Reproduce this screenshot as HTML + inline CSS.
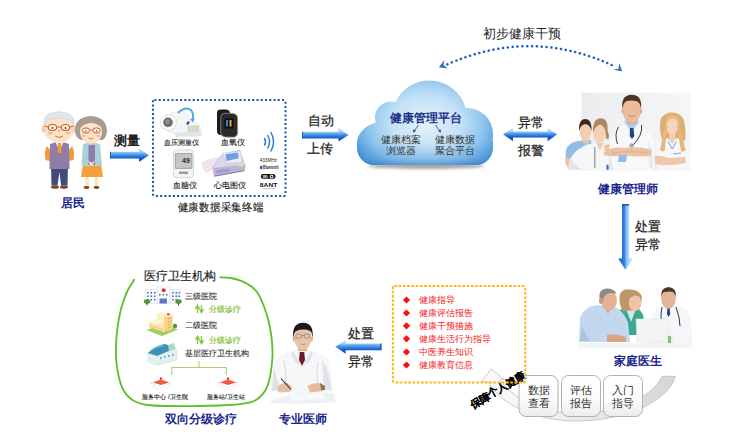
<!DOCTYPE html>
<html><head><meta charset="utf-8">
<style>
html,body{margin:0;padding:0;background:#fff;width:750px;height:441px;overflow:hidden}
svg{display:block;font-family:"Liberation Sans",sans-serif}
</style></head><body>
<svg width="750" height="441" viewBox="0 0 750 441">
<defs>
<linearGradient id="arrH" x1="0" y1="0" x2="0" y2="1">
<stop offset="0" stop-color="#a9d3f5"/><stop offset="0.5" stop-color="#3b8fe0"/><stop offset="1" stop-color="#1d64c0"/>
</linearGradient>
<linearGradient id="arrV" x1="0" y1="0" x2="1" y2="0">
<stop offset="0" stop-color="#1d6fd6"/><stop offset="0.45" stop-color="#4a9ae6"/><stop offset="1" stop-color="#b5dcf8"/>
</linearGradient>
<radialGradient id="cloudG" gradientUnits="userSpaceOnUse" cx="426" cy="123" r="78" gradientTransform="translate(426 123) scale(1 0.78) translate(-426 -123)">
<stop offset="0" stop-color="#e6f3fb"/><stop offset="0.45" stop-color="#c2e1f6"/><stop offset="0.75" stop-color="#8cc3ec"/><stop offset="0.92" stop-color="#5fa6e0"/><stop offset="1" stop-color="#4a92d6"/>
</radialGradient>
<linearGradient id="cloudB" gradientUnits="userSpaceOnUse" x1="0" y1="142" x2="0" y2="165">
<stop offset="0" stop-color="#3f86d0" stop-opacity="0"/><stop offset="0.7" stop-color="#3f86d0" stop-opacity="0.25"/><stop offset="1" stop-color="#2f74c4" stop-opacity="0.6"/>
</linearGradient>

<clipPath id="cloudClip">
<circle cx="429.5" cy="118" r="37.5"/>
<circle cx="391" cy="117.5" r="16"/>
<ellipse cx="387" cy="143" rx="30" ry="22"/>
<circle cx="467" cy="134" r="26"/>
<rect x="357" y="126" width="136" height="39" rx="17"/>
</clipPath>
<filter id="blur2" x="-20%" y="-100%" width="140%" height="300%"><feGaussianBlur stdDeviation="1.5"/></filter>

<linearGradient id="boxG" x1="0" y1="0" x2="0" y2="1"><stop offset="0" stop-color="#ffffff"/><stop offset="0.6" stop-color="#fbfbfb"/><stop offset="1" stop-color="#ececec"/></linearGradient>

<linearGradient id="arcG" gradientUnits="userSpaceOnUse" x1="480" y1="0" x2="676" y2="0"><stop offset="0" stop-color="#fbfbfb"/><stop offset="0.45" stop-color="#ededed"/><stop offset="1" stop-color="#d6d6d6"/></linearGradient>

<linearGradient id="docBg" x1="0" y1="0" x2="1" y2="0"><stop offset="0" stop-color="#e9ebed"/><stop offset="0.12" stop-color="#eceef0"/><stop offset="0.5" stop-color="#f1f2f3"/><stop offset="1" stop-color="#f6f6f7"/></linearGradient>
<linearGradient id="gA1" gradientUnits="userSpaceOnUse" x1="0" y1="151.6" x2="0" y2="158.8"><stop offset="0" stop-color="#a8d3f7"/><stop offset="0.3" stop-color="#5fa8ec"/><stop offset="0.6" stop-color="#2f83e0"/><stop offset="1" stop-color="#1352c2"/></linearGradient>
<linearGradient id="gA2" gradientUnits="userSpaceOnUse" x1="0" y1="131.6" x2="0" y2="138.6"><stop offset="0" stop-color="#a8d3f7"/><stop offset="0.3" stop-color="#5fa8ec"/><stop offset="0.6" stop-color="#2f83e0"/><stop offset="1" stop-color="#1352c2"/></linearGradient>
<linearGradient id="gA3" gradientUnits="userSpaceOnUse" x1="0" y1="131.3" x2="0" y2="137.6"><stop offset="0" stop-color="#a8d3f7"/><stop offset="0.3" stop-color="#5fa8ec"/><stop offset="0.6" stop-color="#2f83e0"/><stop offset="1" stop-color="#1352c2"/></linearGradient>
<linearGradient id="gA4" gradientUnits="userSpaceOnUse" x1="0" y1="343.3" x2="0" y2="350.5"><stop offset="0" stop-color="#a8d3f7"/><stop offset="0.3" stop-color="#5fa8ec"/><stop offset="0.6" stop-color="#2f83e0"/><stop offset="1" stop-color="#1352c2"/></linearGradient>
<linearGradient id="gV" gradientUnits="userSpaceOnUse" x1="622" y1="0" x2="629" y2="0"><stop offset="0" stop-color="#1f6ed8"/><stop offset="0.45" stop-color="#3a8ce6"/><stop offset="0.55" stop-color="#7fb9f0"/><stop offset="1" stop-color="#b0d8f8"/></linearGradient>
</defs>


<!-- ============ ARROWS ============ -->
<path d="M110 151.8 H139 V148.6 L149 155.2 L139 162 V158.6 H110 Z" fill="url(#gA1)"/>
<rect x="110" y="151.8" width="0.9" height="6.8" fill="#1a55c0"/>
<path d="M302.2 131.7 H338.5 V128.1 L348.6 135 L338.5 141.6 V138.5 H302.2 Z" fill="url(#gA2)"/>
<rect x="302.2" y="131.7" width="0.9" height="6.8" fill="#1a55c0"/>
<path d="M503 134.3 L513 128.2 V131.5 H547.6 V128.2 L557.2 134.3 L547.6 141.3 V137.4 H513 V141.3 Z" fill="url(#gA3)"/>
<path d="M335.2 346.6 L345.6 340.6 V343.5 H381.4 V350.3 H345.6 V353.7 Z" fill="url(#gA4)"/>
<rect x="380.2" y="343.5" width="1.2" height="6.8" fill="#1552c0"/>
<path d="M622 204.2 H629.1 V258.4 H632.7 L625.4 269.7 L618.2 258.4 H622 Z" fill="url(#gV)"/>
<rect x="622" y="204.2" width="7.1" height="1.3" fill="#123f9a"/>

<!-- ============ CLOUD ============ -->
<ellipse cx="426" cy="166" rx="58" ry="3" fill="#8a8580" opacity="0.75" filter="url(#blur2)"/>
<g clip-path="url(#cloudClip)">
<rect x="350" y="75" width="150" height="95" fill="url(#cloudG)"/>
<rect x="350" y="75" width="150" height="95" fill="url(#cloudB)"/>
</g>
<g fill="none" stroke="#2c3e8c" stroke-width="0.8">
<path d="M418.5 125 L414 131.5"/><path d="M435.5 125 L440 131.5"/>
</g>
<g fill="#2c3e8c"><path d="M413.2 132.8 L413.3 129.3 L416 131 Z"/><path d="M440.8 132.8 L438 131 L440.7 129.3 Z"/></g>
<!-- ============ DOTTED ARC ============ -->
<path d="M447.3 64.4 Q530.5 27.4 613 65.6" fill="none" stroke="#1a5fb8" stroke-width="2.5" stroke-dasharray="0.1 4.75" stroke-linecap="round"/>
<path d="M439 67.3 L444.3 60.1 L443.5 65 L447.8 68.4 Z" fill="#2a6cc0"/>
<path d="M622.3 71.2 L619.2 63.3 L618.6 68.7 L613.2 69.8 Z" fill="#2a6cc0"/>

<!-- ============ GREEN BLOB ============ -->
<path d="M134.2 279.7 C133.1 281.4 129.6 286.6 127.9 290.0 C126.2 293.4 125.1 296.3 123.8 300.0 C122.5 303.7 121.3 307.5 120.3 312.0 C119.3 316.5 118.3 321.5 117.6 327.0 C116.9 332.5 116.2 339.5 116.0 345.0 C115.8 350.5 115.8 354.8 116.2 360.0 C116.6 365.2 117.4 371.0 118.6 376.0 C119.8 381.0 121.1 386.0 123.4 390.0 C125.7 394.0 128.4 397.5 132.5 400.0 C136.6 402.5 139.6 404.0 148.0 405.0 C156.4 406.0 171.0 406.1 183.0 406.2 C195.0 406.3 210.5 405.8 220.0 405.5 C229.5 405.2 234.8 404.8 240.0 404.2 C245.2 403.6 247.9 403.2 251.0 402.2 C254.1 401.2 256.4 400.0 258.8 398.0 C261.2 396.0 263.9 393.0 265.6 390.0 C267.4 387.0 268.3 383.7 269.3 380.0 C270.3 376.3 270.9 372.2 271.4 368.0 C271.9 363.8 272.4 358.8 272.5 355.0 C272.6 351.2 272.4 348.3 272.2 345.0 C272.0 341.7 271.8 339.2 271.2 335.0 C270.6 330.8 269.6 325.0 268.3 320.0 C267.0 315.0 265.1 309.4 263.4 305.0 C261.7 300.6 260.1 296.7 258.0 293.5 C255.9 290.3 253.5 288.1 250.7 286.0 C247.9 283.9 244.5 282.2 241.2 280.9 C237.9 279.6 234.4 278.6 230.9 278.0 C227.4 277.4 222.0 277.4 220.2 277.3" fill="none" stroke="#5dbd2a" stroke-width="1.8" stroke-linecap="round"/>

<!-- ============ GREY ARC ============ -->
<path d="M491.2 369 L481.2 382 L488.5 382 C 500 404, 535 420.5, 575 421 C 625 421, 668 402, 675.5 376.3 L 662 376.3 C 652 398, 615 413.5, 575 413.5 C 545 413.5, 514 400, 500 380 L504 379.3 Z" fill="url(#arcG)" stroke="#c4c4c4" stroke-width="0.9" stroke-linejoin="round"/>
<!-- ============ BOXES ============ -->
<g fill="url(#boxG)" stroke="#b0b0b0" stroke-width="1">
<rect x="519" y="375.5" width="39" height="41" rx="7"/>
<rect x="561.5" y="375.5" width="39" height="41" rx="7"/>
<rect x="603.5" y="375.5" width="39" height="41" rx="7"/>
</g>
<text x="497.3" y="390" font-size="10.8" letter-spacing="-0.8" font-weight="bold" fill="#000" stroke="#000" stroke-width="0.05" text-anchor="middle" dominant-baseline="central" transform="rotate(-30 497 390)">保障个人健康</text>


<!-- ============ ELDERLY ============ -->
<g id="elderly">
<!-- grandpa -->
<path d="M47 146 Q44 150 45.5 160 L50 161 L50 150 Z" fill="#f29a3b"/>
<path d="M72 146 Q75 150 73.5 160 L69 161 L69 150 Z" fill="#f29a3b"/>
<path d="M51 167 L68 167 L67.5 185.5 L61 185.5 L59.5 172 L57.5 185.5 L51.5 185.5 Z" fill="#3f4d7e"/>
<path d="M50 144 Q59.5 140 69 144 L69.5 169 L49.5 169 Z" fill="#8f7ca8"/>
<path d="M55.5 142 L59.5 151 L63.5 142 Z" fill="#ffffff"/>
<rect x="57.7" y="143" width="3.6" height="10" fill="#f29a3b"/>
<ellipse cx="55" cy="187" rx="4" ry="1.8" fill="#7a4a2a"/>
<ellipse cx="64" cy="187" rx="4" ry="1.8" fill="#7a4a2a"/>
<ellipse cx="59" cy="128" rx="15.5" ry="14.5" fill="#fde2c6"/>
<ellipse cx="44" cy="129" rx="2.5" ry="3.5" fill="#f8cfac"/>
<ellipse cx="74" cy="129" rx="2.5" ry="3.5" fill="#f8cfac"/>
<path d="M44 126 Q43 114 52 113 Q59 110 66 113 Q75 114 74 126 Q72 119 66 119 Q59 117 52 119 Q46 119 44 126 Z" fill="#dfe6ef" stroke="#c9d2de" stroke-width="0.6"/>
<ellipse cx="52.5" cy="127.5" rx="4.2" ry="3" fill="#fff4ea" stroke="#c0602e" stroke-width="1.1"/>
<ellipse cx="65.5" cy="127.5" rx="4.2" ry="3" fill="#fff4ea" stroke="#c0602e" stroke-width="1.1"/>
<path d="M56.7 127 L61.3 127 M48.3 127 L44.5 126 M69.7 127 L73.5 126" stroke="#c0602e" stroke-width="0.9"/>
<circle cx="52.5" cy="128" r="0.9" fill="#5a3a2a"/><circle cx="65.5" cy="128" r="0.9" fill="#5a3a2a"/>
<path d="M58 130 L59 132.5 L60 130" fill="#f08a60"/>
<ellipse cx="50" cy="133" rx="2.5" ry="1.5" fill="#f7b7a0"/>
<ellipse cx="68" cy="133" rx="2.5" ry="1.5" fill="#f7b7a0"/>
<path d="M55 136 Q59 139 63 136" fill="none" stroke="#c8683a" stroke-width="0.9"/>
<!-- grandma -->
<rect x="85.5" y="176" width="3.4" height="11" fill="#fde2c6"/>
<rect x="94.5" y="176" width="3.4" height="11" fill="#fde2c6"/>
<ellipse cx="86.5" cy="187.5" rx="3" ry="1.4" fill="#7a4a2a"/>
<ellipse cx="96.5" cy="187.5" rx="3" ry="1.4" fill="#7a4a2a"/>
<path d="M83 164 L101 164 L103 177 L81 177 Z" fill="#f4a03f"/>
<path d="M83 144 Q91.5 141 100 144 L102 166 L81.5 166 Z" fill="#a9d3d6"/>
<rect x="88.5" y="145" width="6.5" height="20" fill="#8f7ca8"/>
<path d="M88 160 Q91.5 165 95 160 Q93 166 91.5 166 Q90 166 88 160 Z" fill="#fde2c6"/>
<path d="M75 132 Q74 117 91 116 Q107 117 107 132 Q105 140 102 140 L81 140 Q76 138 75 132 Z" fill="#a59c93"/>
<ellipse cx="91" cy="132" rx="11" ry="11.5" fill="#fde2c6"/>
<path d="M80 128 Q84 119 93 120 Q100 121 102 128 Q97 123 91 123 Q85 123 80 128 Z" fill="#a59c93"/>
<ellipse cx="86" cy="130.5" rx="3.6" ry="2.6" fill="#fff4ea" stroke="#c0602e" stroke-width="1"/>
<ellipse cx="96.5" cy="130.5" rx="3.6" ry="2.6" fill="#fff4ea" stroke="#c0602e" stroke-width="1"/>
<path d="M89.6 130 L92.9 130" stroke="#c0602e" stroke-width="0.8"/>
<circle cx="86" cy="131" r="0.8" fill="#5a3a2a"/><circle cx="96.5" cy="131" r="0.8" fill="#5a3a2a"/>
<ellipse cx="83.5" cy="136" rx="2" ry="1.2" fill="#f7b7a0"/>
<ellipse cx="98.5" cy="136" rx="2" ry="1.2" fill="#f7b7a0"/>
<path d="M88.5 138 Q91 140 93.5 138" fill="none" stroke="#c8683a" stroke-width="0.8"/>
</g>

<!-- ============ DEVICES ============ -->
<g id="devices">
<!-- BP monitor -->
<path d="M165 118 Q172 110 184 111 L190 118 L200 126 L201.5 135 L195 137 L172 133 Q163 130 165 118 Z" fill="#f3f5f7" stroke="#d4d8dd" stroke-width="0.5"/>
<path d="M174 133 L200 131 L201.5 136 L176 137 Z" fill="#e2e6ea"/>
<path d="M187.5 126.5 L198.5 125.8 L199 131 L188.5 131.5 Z" fill="#cfe0c4" stroke="#a8b4a0" stroke-width="0.4"/>
<circle cx="168.5" cy="122.5" r="8" fill="#fbfbfc" stroke="#d0d4d9" stroke-width="0.7"/>
<circle cx="168" cy="122.3" r="4.8" fill="#6a6c70"/>
<circle cx="167.5" cy="121.8" r="2.5" fill="#8a8c90"/>
<path d="M186 124 L188 121 L190 122 L188 125 Z" fill="#2a4fa0"/>
<path d="M178 113 Q185 106 191 110 Q194 114 192.5 120" fill="none" stroke="#47ace0" stroke-width="2"/>
<path d="M190 119 L192.8 122.5 L195 118.5 Z" fill="#47ace0"/>
<!-- oximeter -->
<path d="M217 113 Q217 109.5 221 109.6 L226 109.6 Q230 110 230.4 114 L231 133 Q230 135.5 226 135.4 L220 135 Q217 134 217 131 Z" fill="#1c1c1e"/>
<path d="M220.8 117 Q221 113.2 225 113.2 L233 113.5 Q237.4 114 237.6 118 L237.6 133 Q237 137.2 233 137.2 L225 137 Q221 136.6 220.8 133 Z" fill="#2a2a2d" stroke="#8d9096" stroke-width="0.8"/>
<rect x="224.5" y="118.5" width="9" height="10" rx="1" fill="#0e0e10"/>
<rect x="226" y="120" width="2" height="6.5" fill="#2f7fe0"/>
<rect x="229.5" y="120" width="2" height="6.5" fill="#e8b020"/>
<!-- glucose -->
<rect x="173.4" y="150" width="20" height="27.7" rx="3" fill="#f4f4f5" stroke="#c6c9cd" stroke-width="0.7"/>
<rect x="174.8" y="153" width="17.6" height="16" rx="1" fill="#a9abae"/>
<rect x="176" y="154.2" width="15.2" height="13.6" fill="#c4c6c8"/>
<text x="186" y="162.5" font-size="7" fill="#2a2a2a" text-anchor="middle" font-weight="bold">49</text>
<rect x="179" y="171.5" width="9" height="2.5" fill="#9a9da2"/>
<!-- ECG -->
<path d="M202 163 Q210 158 222.5 157.4 L222 166.5 Q212 168 206 172.5 Q203 168.5 202 163 Z" fill="#f3e6f0" stroke="#d6c2d6" stroke-width="0.5"/>
<path d="M204 165 Q212 161 221 160.5 M205 168 Q213 164 221 163.5" fill="none" stroke="#e0cede" stroke-width="0.5"/>
<path d="M212.7 167.2 L221.7 155 L239.6 150.1 L245.3 166.4 L244.5 170.5 L214.3 176 Z" fill="#dcd8ec" stroke="#aaa6c8" stroke-width="0.5"/>
<path d="M213.3 168 L245.2 164.2 L244.5 170.5 L214.3 176 Z" fill="#bab4da"/>
<path d="M216 170.5 L229 168.5 L229 171.5 L216.5 173.5 Z" fill="#a29cc8"/>
<path d="M222.5 153.3 L240.4 150.9 L242.5 162.3 L226.6 163.6 Z" fill="#eeecf5" stroke="#b9b5d2" stroke-width="0.5"/>
<path d="M225.3 154.2 L238 152.5 L238.8 158.2 L226.6 161.1 Z" fill="#6f9fe4"/>
<rect x="238.6" y="164.4" width="4.9" height="2" fill="#e6ef5c"/>
<path d="M214.3 176.2 L244.5 170.7" stroke="#6a6682" stroke-width="0.8"/>
<!-- wireless -->
<g fill="none" stroke="#2a7ed4" stroke-width="1.5" stroke-linecap="round">
<path d="M264.5 138.5 Q266.5 141.7 264.5 145"/>
<path d="M267.8 135.5 Q271.2 141.7 267.8 148"/>
<path d="M271 132.5 Q276 141.7 271 151"/>
</g>
<text x="268.3" y="162.3" font-size="4.6" fill="#222" text-anchor="middle" textLength="17" lengthAdjust="spacingAndGlyphs">433MHz</text>
<ellipse cx="261.2" cy="167.5" rx="1.3" ry="2" fill="#1f5fbf"/>
<text x="263" y="169.2" font-size="4.6" fill="#222" font-weight="bold" textLength="15.5" lengthAdjust="spacingAndGlyphs">Bluetooth</text>
<rect x="260.8" y="174" width="14.7" height="4.8" rx="2.4" fill="#111"/>
<circle cx="271.6" cy="176.4" r="1.9" fill="#fff"/><circle cx="271.6" cy="176.4" r="1" fill="#111"/>
<text x="265.2" y="178" font-size="4" fill="#fff" text-anchor="middle" font-weight="bold">Wi</text>
<text x="268.6" y="187.2" font-size="5" fill="#111" text-anchor="middle" font-weight="bold" textLength="17.5" lengthAdjust="spacingAndGlyphs">8ANT</text>
<rect x="263" y="188.5" width="12" height="0.6" fill="#999"/>
</g>


<!-- ============ DOCTORS PHOTO ============ -->
<g id="docs">
<rect x="581.5" y="92.6" width="108.8" height="78" fill="url(#docBg)"/>
<!-- woman 1 far left (blue scrubs) -->
<path d="M565.5 160 L566 150 Q568 143 578 141 L591 140 L593 160 Z" fill="#8fbde8"/>
<path d="M565 158 Q565 166 570 170 L580 170 L578 158 Z" fill="#eac3a6"/>
<path d="M582 140.5 L586 146 L590 140.5 Z" fill="#e9c1a5"/>
<ellipse cx="585.3" cy="131.5" rx="5.8" ry="9.5" fill="#f1cdb4"/>
<path d="M579 131 Q578.5 119 585.5 119 Q592 119 591.5 131 Q590 124.5 585.5 124 Q580.5 124.5 579 131 Z" fill="#3a2a22"/>
<!-- woman 2 (white coat) -->
<path d="M568.4 170 Q568 160 575 152 Q583 145 594 143 L604 143 L616 146 L616.2 170 Z" fill="#f5f6f8"/>
<path d="M570 158 Q576 166 582 170 L569 170 Z" fill="#e3e7eb"/>
<path d="M596 143 L600 150 L604 143 Z" fill="#f0cbb1"/>
<ellipse cx="599.5" cy="133" rx="6.3" ry="10" fill="#f3d0b7"/>
<path d="M593 133 Q592.5 118.3 600.5 118.3 Q608.5 118.3 607.5 131 Q609.5 134 608.5 139 L606 138.5 Q606.5 126.5 600.5 124.5 Q595 125.5 593 133 Z" fill="#ae8660"/>
<path d="M594.8 147 L594.8 168" stroke="#7f8a95" stroke-width="1.1"/>
<path d="M603.6 146 Q608 143 613 145 L615 152 L605 151 Z" fill="#ebc2a4"/>
<rect x="606.4" y="164.7" width="6.3" height="5" fill="#3d70b8"/>
<!-- woman 3 right (blonde) -->
<path d="M662 140 Q658.5 128 661 118 Q665 112.4 672.5 112.4 Q680 112.4 683.5 119 Q686.5 130 685 142 L662 142 Z" fill="#ddb070"/>
<path d="M654.6 170 L655 148 Q659 140.5 667 138.5 L679 138.5 Q687 140.5 689.7 148 L689.7 170 Z" fill="#f5f7f9"/>
<path d="M656 150 Q658 162 657 170 L654.6 170 Z" fill="#e4e8ec"/>
<path d="M669.5 132 L675 132 L675.5 140 L672.2 144 L669 140 Z" fill="#f2cdb5"/>
<ellipse cx="672.2" cy="125" rx="6.6" ry="9.6" fill="#f5d5c0"/>
<path d="M665.4 126 Q665 115.3 672.5 115 Q680 115.3 679.2 126 Q677 118.5 672.5 118.5 Q668 118.5 665.4 126 Z" fill="#e6bd80"/>
<path d="M665.6 122 Q663 135 660 150 Q662 152 664.5 151 Q666 138 667.5 126 Z" fill="#e4b878"/>
<path d="M678.8 122 Q681.5 135 685.8 150 Q683.5 152.4 681 151 Q678.5 138 677 126 Z" fill="#e4b878"/>
<path d="M668 141.5 L672.2 149 L676.5 141.5" fill="none" stroke="#6aa0d0" stroke-width="1"/>
<path d="M673 154 L681 153" stroke="#7aaad8" stroke-width="1"/>
<path d="M652 157 Q660 154 668 158 L685 157 L686 163 Q672 166 660 165 L652 162 Z" fill="#efc7aa"/>
<!-- man center -->
<path d="M608.8 170 Q607.5 143 613 133 Q618 127 628 124 L636 124 Q647 127 651 134 Q655 143 654.6 170 Z" fill="#f7f8fa"/>
<path d="M609.5 147 Q611 162 614 170 L608.8 170 Z" fill="#e4e8ec"/>
<path d="M648 140 Q653 150 653 168 L649 168 Z" fill="#e6eaee"/>
<path d="M624.4 122 L631.5 132 L639 122 L638 120 L626 120 Z" fill="#a6cff0"/>
<path d="M630 128 L633.5 128 L634.3 136 L632 139 L629.7 136 Z" fill="#22447f"/>
<rect x="627.2" y="115" width="9.6" height="9" fill="#e0ae8e"/>
<ellipse cx="631.8" cy="110" rx="9.3" ry="13" fill="#ebbc9c"/>
<ellipse cx="622.6" cy="111" rx="1.3" ry="2.6" fill="#e0ae8e"/>
<ellipse cx="641" cy="111" rx="1.3" ry="2.6" fill="#e0ae8e"/>
<path d="M622.4 109 Q620.8 94.8 631.7 94.8 Q642.5 94.8 641 109 Q640 101.5 636 101 Q631.5 100.2 627 101 Q623.5 101.8 622.4 109 Z" fill="#4e3322"/>
<path d="M628 115.5 Q632 118 636 115.5" fill="none" stroke="#c07a70" stroke-width="0.8"/>
<path d="M618.5 127 Q614 134 617.5 144" fill="none" stroke="#2f3a48" stroke-width="1"/>
<path d="M641.5 125 Q643 135 633 145" fill="none" stroke="#2f3a48" stroke-width="1"/>
<circle cx="631.5" cy="145.5" r="1.8" fill="#a5adb6" stroke="#6a737c" stroke-width="0.4"/>
<path d="M604 152 Q612 146 624 148 Q640 146 651.7 150 L651 156 Q638 157 625 155.5 Q612 157 604 155.3 Z" fill="#ecc0a2"/>
<path d="M612 153 Q628 150.5 648 153" fill="none" stroke="#d9a98a" stroke-width="0.8"/>
<path d="M619 155 L627 155 L626 162 L618 162 Z" fill="#8fbde8"/>
</g>

<!-- ============ FAMILY PHOTO ============ -->
<g id="family">
<rect x="579" y="343" width="113" height="4.5" fill="#f2f3f4"/>
<!-- doctor right -->
<path d="M650 343 L651 318 Q655 308 664 306 L676 305 Q688 308 691 318 L692.5 343 Z" fill="#f4f6f8"/>
<path d="M665 306 L668.5 313 L672 306 Z" fill="#c7daf0"/>
<path d="M667.5 308 L669.5 308 L670.2 314 L668.6 317 L667 314 Z" fill="#243f7a"/>
<path d="M662 307 Q660 318 662 322" fill="none" stroke="#2c3850" stroke-width="1"/>
<path d="M676 307 Q680 318 680 326" fill="none" stroke="#2c3850" stroke-width="1"/>
<ellipse cx="668.5" cy="299" rx="7.3" ry="9.5" fill="#e3b497"/>
<path d="M661.3 298 Q660 287.5 668.5 287 Q677 287.5 676 298 Q675 292 671 291.5 L664 292 Q662 293 661.3 298 Z" fill="#4a382d"/>
<!-- woman middle -->
<path d="M615 335 L615 315 Q618 309 626 308 L637 308 Q643 311 644 320 L644 335 Z" fill="#3aa78f"/>
<path d="M626 309 L631 322 L636 309 Z" fill="#cfe8e0"/>
<path d="M619.5 297 Q620 288.5 630 289.4 Q640 289.5 641.8 297 Q642 304 639 310 L623 311 Q619 305 619.5 297 Z" fill="#bf956a"/>
<ellipse cx="635" cy="302.5" rx="6.2" ry="8.6" fill="#efc5a6"/>
<path d="M628.5 300 Q629 292 635.5 292 Q641 292.5 641.8 298 Q638 295 634.5 295.5 Q630.5 296.5 628.5 300 Z" fill="#bf956a"/>
<!-- man left -->
<path d="M579 342 L580 318 Q583 307 597 305 L613 306 Q622 309 628 322 L630 342 Z" fill="#c3d7ef"/>
<path d="M582 325 Q585 335 590 341 L580 341 Z" fill="#a9c3e0"/>
<path d="M604 306 L608 314 L612 306 Z" fill="#d6a486"/>
<ellipse cx="609" cy="300.5" rx="8" ry="10" fill="#e2b296"/>
<path d="M599.5 300 Q598 289 606 288.5 Q614 288 616.5 294 Q612 292 607 294 Q603 296 603 302 Z" fill="#8c8c8c"/>
<ellipse cx="601" cy="301" rx="2" ry="3" fill="#d09a7a"/>
<path d="M607 335 Q614 333 626 337 L626 342 L607 342 Z" fill="#d9a585"/>
<!-- laptop -->
<path d="M636 319 L668 319 L669 342 L637 342 Z" fill="#f2f4f6" stroke="#dde1e5" stroke-width="0.6"/>
<rect x="665" y="335" width="9" height="8" fill="#eef3ea"/>
<rect x="668" y="336" width="3" height="7" fill="#7cc07a"/>
</g>

<!-- ============ PRO DOCTOR ============ -->
<g id="prodoc">
<path d="M270 401 Q300 389 333 393 L336 402 Q303 405 272 403 Z" fill="#eef0f2"/>
<path d="M290 395 L322 393 L326 399 L292 401 Z" fill="#f8f9fa"/>
<path d="M271 391 Q271.5 364 279 357 Q287 351.5 297 349.5 L308 349.5 Q318 351.5 325 356 Q331.5 362 332.5 391 L322 393 L281 393 Z" fill="#f6f7f9"/>
<path d="M274 366 Q276 382 283 390 L272 391 Z" fill="#dde1e6"/>
<path d="M322 360 Q330 370 331.5 390 L324 390 Z" fill="#e0e4e8"/>
<path d="M284 361 Q287 375 285 385" fill="none" stroke="#dadfe4" stroke-width="1.2"/>
<path d="M318 362 Q316 375 318 385" fill="none" stroke="#dadfe4" stroke-width="1.2"/>
<path d="M296 350 L302 358 L308 350 Z" fill="#eef1f4"/>
<path d="M299.8 352 L304.2 352 L305 360 L302 366 L299 360 Z" fill="#6b1c2e"/>
<path d="M293 351 L301.5 365 L295 362 L291 354 Z" fill="#dde2e7"/>
<path d="M311 351 L302.5 365 L309 362 L313 354 Z" fill="#dde2e7"/>
<rect x="298" y="344" width="9" height="7" fill="#ddb497"/>
<ellipse cx="302.8" cy="338" rx="8.6" ry="11.8" fill="#e9c4a7"/>
<ellipse cx="294" cy="339" rx="1.4" ry="2.5" fill="#dcb092"/>
<ellipse cx="311.6" cy="339" rx="1.4" ry="2.5" fill="#dcb092"/>
<path d="M293.2 338 Q291.8 322.8 303 322.8 Q314 322.8 312.6 338 L311.6 333 Q310 329 303 329.5 Q296 329.5 294.5 333 Z" fill="#1a1a1c"/>
<g fill="none" stroke="#707070" stroke-width="0.6"><rect x="295.8" y="334.2" width="5.6" height="3.8" rx="1"/><rect x="304.2" y="334.2" width="5.6" height="3.8" rx="1"/><path d="M301.4 335.5 H304.2"/></g>
<path d="M300.5 344 Q303 345.3 305.5 344" fill="none" stroke="#b07868" stroke-width="0.6"/>
<path d="M277 388 Q280 383 287 382.5 L292 386.5 L290 392 L279 392.5 Z" fill="#e6bfa2"/>
<path d="M307.5 386 Q314 381.5 322 383.5 L323.5 391 L310 392.5 Z" fill="#e3bc9f"/>
<path d="M320 383 L325 386 L325 390 L321 390 Z" fill="#8a7a50"/>
<path d="M281 378.5 L291 389.5" stroke="#2a2a2a" stroke-width="1.1"/>
</g>

<!-- ============ HOSPITAL TREE ============ -->
<g id="hosp">
<!-- building 1 -->
<rect x="145" y="289.5" width="12.5" height="14" fill="#f7f9fc" stroke="#c8d2e2" stroke-width="0.4"/>
<rect x="157.5" y="287" width="12.5" height="16.5" fill="#ffffff" stroke="#c8d2e2" stroke-width="0.4"/>
<rect x="170" y="289.5" width="10.5" height="14" fill="#f7f9fc" stroke="#c8d2e2" stroke-width="0.4"/>
<g fill="#3f5fae">
<rect x="147" y="292" width="1.6" height="1.4"/><rect x="150.5" y="292" width="1.6" height="1.4"/><rect x="154" y="292" width="1.6" height="1.4"/>
<rect x="147" y="295.5" width="1.6" height="1.4"/><rect x="150.5" y="295.5" width="1.6" height="1.4"/><rect x="154" y="295.5" width="1.6" height="1.4"/>
<rect x="147" y="299" width="1.6" height="1.4"/><rect x="150.5" y="299" width="1.6" height="1.4"/><rect x="154" y="299" width="1.6" height="1.4"/>
<rect x="172" y="292" width="1.6" height="1.4"/><rect x="175.5" y="292" width="1.6" height="1.4"/><rect x="178.5" y="292" width="1.4" height="1.4"/>
<rect x="172" y="295.5" width="1.6" height="1.4"/><rect x="175.5" y="295.5" width="1.6" height="1.4"/><rect x="178.5" y="295.5" width="1.4" height="1.4"/>
<rect x="172" y="299" width="1.6" height="1.4"/><rect x="175.5" y="299" width="1.6" height="1.4"/>
<rect x="159" y="294" width="1.6" height="1.4"/><rect x="162.5" y="294" width="1.6" height="1.4"/><rect x="166" y="294" width="1.6" height="1.4"/>
<rect x="159.5" y="298.5" width="7.5" height="5" fill="#5a7cc4"/>
</g>
<circle cx="163.7" cy="290.3" r="2" fill="#e0303a"/>
<ellipse cx="147" cy="301.5" rx="3.2" ry="2.2" fill="#4c9a3a"/>
<rect x="146.5" y="302.5" width="1" height="3" fill="#6b4a2a"/>
<ellipse cx="178.5" cy="301.5" rx="3.2" ry="2.2" fill="#4c9a3a"/>
<rect x="178" y="302.5" width="1" height="3" fill="#6b4a2a"/>
<!-- building 2 -->
<path d="M146.5 330 L162 336 L178 329.5 L163 324 Z" fill="#9fd05a"/>
<!-- back top block -->
<path d="M156.5 314 L161 312 L166 314 L166 322 L156.5 322 Z" fill="#fbf0c6"/>
<!-- left low block -->
<path d="M149 322 L157 319 L165 322 L165 332.5 L149 327.5 Z" fill="#fae7b0"/>
<path d="M149 322 L157 319 L165 322 L157 325 Z" fill="#fff6d8"/>
<g stroke="#f0b060" stroke-width="0.7"><path d="M150 325 L164 330"/><path d="M150 327 L164 332"/></g>
<!-- tall block -->
<path d="M163.8 315.5 L168.5 313.3 L172.4 315 L172.4 329 L168 331.5 L163.8 330 Z" fill="#f7d68e"/>
<path d="M163.8 315.5 L168.5 313.3 L172.4 315 L168 317 Z" fill="#fff3cf"/>
<g stroke="#ec9a50" stroke-width="0.7"><path d="M168 319 L172.4 317.5"/><path d="M168 322 L172.4 320.5"/><path d="M168 325 L172.4 323.5"/><path d="M168 328 L172.4 326.5"/></g>
<path d="M168 317 L168 331.5" stroke="#f0b060" stroke-width="0.5"/>
<circle cx="168.3" cy="314.3" r="1.3" fill="#e04848"/>
<circle cx="175" cy="326" r="2.2" fill="#4c9a3a"/>
<!-- building 3 -->
<path d="M148 353 L168 347 L177 350 L177 360 L157 365 L148 362 Z" fill="#e3f1ee" stroke="#b8d4d0" stroke-width="0.4"/>
<path d="M148 353 Q155 345 165 344 L176 348 L157 356 Z" fill="#3d93b5"/>
<path d="M151 350 Q157 346 163 346" fill="none" stroke="#8fd0c8" stroke-width="1.2"/>
<path d="M168 345 L174 343 L175 349 L169 351 Z" fill="#a8dcc0"/>
<g fill="#6aa8d8"><rect x="160" y="357" width="1.6" height="2"/><rect x="164" y="356" width="1.6" height="2"/><rect x="168" y="355" width="1.6" height="2"/><rect x="172" y="354" width="1.6" height="2"/></g>
<!-- arrows -->
<g stroke="#8cc63f" stroke-width="1.3" fill="#8cc63f">
<path d="M197.5 306 L197.5 313" /><path d="M195.8 308 L197.5 305.2 L199.2 308 Z"/>
<path d="M201.5 305 L201.5 312" /><path d="M199.8 310 L201.5 312.8 L203.2 310 Z"/>
<path d="M197.5 337 L197.5 344" /><path d="M195.8 339 L197.5 336.2 L199.2 339 Z"/>
<path d="M201.5 336 L201.5 343" /><path d="M199.8 341 L201.5 343.8 L203.2 341 Z"/>
</g>
<!-- tree lines -->
<g stroke="#a9d06c" stroke-width="1.1" fill="none">
<path d="M199 361 V367.5"/><path d="M171.8 375 V367.5 H226.2 V375"/>
</g>
<!-- small icons -->
<g>
<path d="M151 383 L161 379 L171 383 L161 387.5 Z" fill="#ffffff" stroke="#c9c9c9" stroke-width="0.4"/>
<path d="M153 382.5 L161 379.5 L169 382.5 L161 385 Z" fill="#f05a3a"/>
<path d="M151 383 L151 386 L161 390 L171 386 L171 383" fill="none" stroke="#bcbcbc" stroke-width="0.5" stroke-dasharray="1 1"/>
<circle cx="161" cy="378.5" r="1.2" fill="#e0303a"/>
<path d="M218 383 L228 379 L238 383 L228 387.5 Z" fill="#ffffff" stroke="#c9c9c9" stroke-width="0.4"/>
<path d="M220 382.5 L228 379.5 L236 382.5 L228 385 Z" fill="#f05a3a"/>
<path d="M218 383 L218 386 L228 390 L238 386 L238 383" fill="none" stroke="#bcbcbc" stroke-width="0.5" stroke-dasharray="1 1"/>
<circle cx="228" cy="378.5" r="1.2" fill="#e0303a"/>
</g>
</g>

<!-- ============ TEXTS ============ -->
<g text-anchor="start" dominant-baseline="central">
<text x="185" y="296.4" font-size="7.6" fill="#333" stroke="#333" stroke-width="0.12">三级医院</text>
<text x="185" y="325" font-size="7.6" fill="#333" stroke="#333" stroke-width="0.12">二级医院</text>
<text x="185" y="353" font-size="7.8" fill="#333" stroke="#333" stroke-width="0.12">基层医疗卫生机构</text>
<text x="209" y="309" font-size="7.6" fill="#7cbd2e" stroke="#7cbd2e" stroke-width="0.15">分级诊疗</text>
<text x="209" y="340.4" font-size="7.6" fill="#7cbd2e" stroke="#7cbd2e" stroke-width="0.15">分级诊疗</text>
<text x="142.2" y="396.8" font-size="6.3" fill="#222" stroke="#222" stroke-width="0.12">服务中心 /卫生院</text>
<text x="207" y="396.8" font-size="6.45" fill="#222" stroke="#222" stroke-width="0.12">服务站/卫生站</text>
</g>

<g id="texts" text-anchor="middle" dominant-baseline="central">
<text x="522.4" y="34" font-size="12.5" fill="#222">初步健康干预</text>
<text x="73" y="202.6" font-size="12" font-weight="bold" fill="#18238c">居民</text>
<text x="127" y="141" font-size="12.6" font-weight="bold" fill="#222">测量</text>
<text x="220.6" y="206.6" font-size="11" fill="#222" stroke="#222" stroke-width="0.15" transform="translate(220.6 0) scale(0.95 1) translate(-220.6 0)">健康数据采集终端</text>
<text x="321" y="120" font-size="13" fill="#222" stroke="#222" stroke-width="0.25">自动</text>
<text x="320.2" y="148" font-size="13" fill="#222" stroke="#222" stroke-width="0.25">上传</text>
<text x="530.5" y="122" font-size="13" fill="#222" stroke="#222" stroke-width="0.25">异常</text>
<text x="530.5" y="150" font-size="13" fill="#222" stroke="#222" stroke-width="0.25">报警</text>
<text x="627.5" y="189" font-size="11.5" font-weight="bold" fill="#18238c">健康管理师</text>
<text x="647.6" y="226.9" font-size="12.5" fill="#222" stroke="#222" stroke-width="0.25">处置</text>
<text x="647.6" y="244.9" font-size="12.5" fill="#222" stroke="#222" stroke-width="0.25">异常</text>
<text x="638" y="361" font-size="11.5" font-weight="bold" fill="#18238c">家庭医生</text>
<text x="361.2" y="333.9" font-size="12.5" fill="#222" stroke="#222" stroke-width="0.25">处置</text>
<text x="361.2" y="362" font-size="12.5" fill="#222" stroke="#222" stroke-width="0.25">异常</text>
<text x="302.6" y="419" font-size="11.5" font-weight="bold" fill="#18238c">专业医师</text>
<text x="200.6" y="419" font-size="11.5" font-weight="bold" fill="#18238c">双向分级诊疗</text>
<text x="180.4" y="275.5" font-size="11.8" fill="#222" stroke="#222" stroke-width="0.15">医疗卫生机构</text>
<!-- cloud texts -->
<text x="426.3" y="118" font-size="11.5" font-weight="bold" fill="#1a2f8a">健康管理平台</text>
<text x="400.5" y="139" font-size="9.5" fill="#333">健康档案</text>
<text x="400.5" y="150" font-size="9.5" fill="#333">浏览器</text>
<text x="455" y="139" font-size="9.5" fill="#333">健康数据</text>
<text x="455" y="150" font-size="9.5" fill="#333">聚合平台</text>
<!-- devices labels -->
<text x="181.4" y="142" font-size="7.3" fill="#222" stroke="#222" stroke-width="0.12">血压测量仪</text>
<text x="233.2" y="142" font-size="7.5" fill="#222" stroke="#222" stroke-width="0.12">血氧仪</text>
<text x="184.8" y="185" font-size="7.5" fill="#222" stroke="#222" stroke-width="0.12">血糖仪</text>
<text x="230.2" y="185" font-size="7.5" fill="#222" stroke="#222" stroke-width="0.12">心电图仪</text>
<!-- boxes -->
<text x="538.5" y="390" font-size="11.2" fill="#333">数据</text>
<text x="538.5" y="403" font-size="11.2" fill="#333">查看</text>
<text x="580.5" y="390" font-size="11.2" fill="#333">评估</text>
<text x="580.5" y="403" font-size="11.2" fill="#333">报告</text>
<text x="623" y="390" font-size="11.2" fill="#333">入门</text>
<text x="623" y="403" font-size="11.2" fill="#333">指导</text>
</g>
<!-- red list -->
<g font-size="9" fill="#f51616" dominant-baseline="central">
<text x="418.5" y="300">健康指导</text>
<text x="418.5" y="313">健康评估报告</text>
<text x="418.5" y="325.5">健康干预措施</text>
<text x="418.5" y="338.7">健康生活行为指导</text>
<text x="418.5" y="352">中医养生知识</text>
<text x="418.5" y="365">健康教育信息</text>
</g>
<g fill="#ff0c0c">
<path d="M406.5 296.4 l3.6 3.6 l-3.6 3.6 l-3.6 -3.6z"/>
<path d="M406.5 309.4 l3.6 3.6 l-3.6 3.6 l-3.6 -3.6z"/>
<path d="M406.5 322.2 l3.6 3.6 l-3.6 3.6 l-3.6 -3.6z"/>
<path d="M406.5 335.2 l3.6 3.6 l-3.6 3.6 l-3.6 -3.6z"/>
<path d="M406.5 348.4 l3.6 3.6 l-3.6 3.6 l-3.6 -3.6z"/>
<path d="M406.5 361.4 l3.6 3.6 l-3.6 3.6 l-3.6 -3.6z"/>
</g>
<rect x="392.9" y="286" width="132.4" height="96.5" rx="1.5" fill="none" stroke="#ffb51a" stroke-width="1.9" stroke-dasharray="2.7 1.55"/>

<!-- dotted device box -->
<rect x="153" y="100" width="132.5" height="95.9" rx="1.5" fill="none" stroke="#1454b8" stroke-width="2" stroke-dasharray="2 2.25"/>

</svg>
</body></html>
